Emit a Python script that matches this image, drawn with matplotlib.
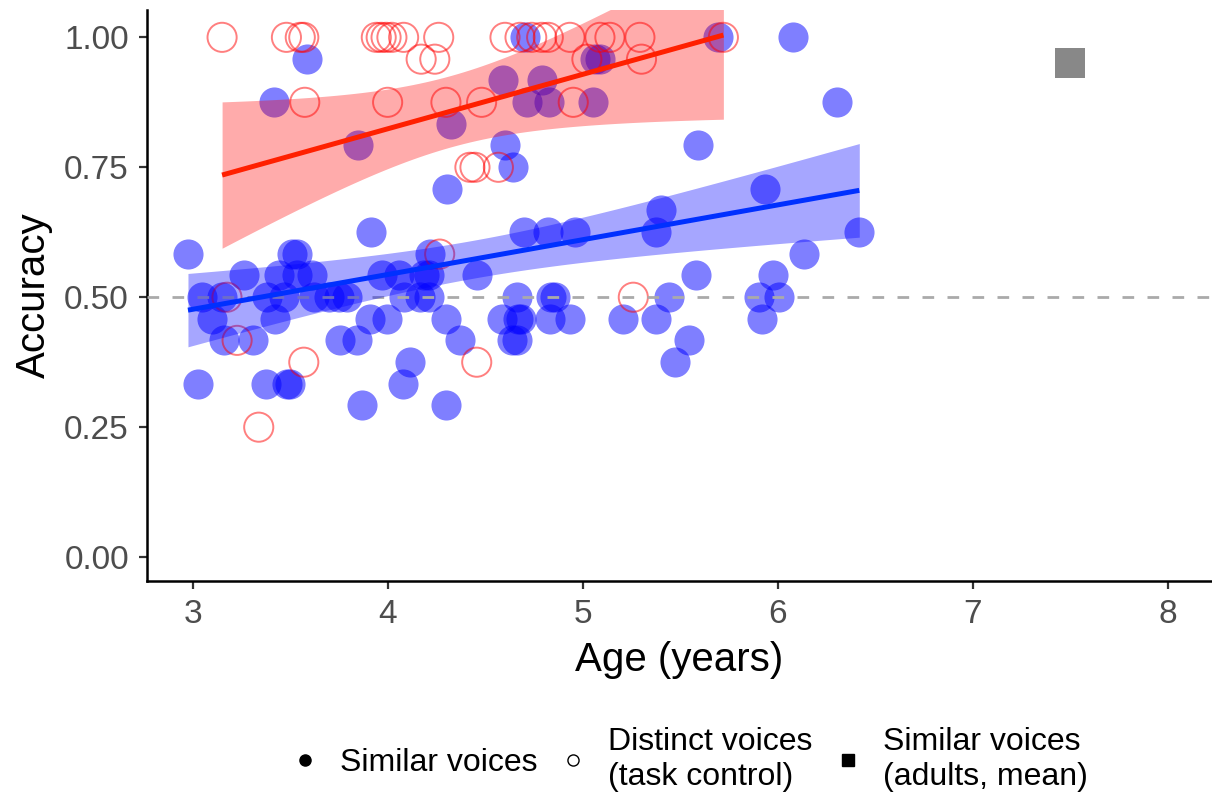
import numpy as np
import matplotlib.pyplot as plt
from matplotlib.lines import Line2D

plt.rcParams['font.family'] = ['Liberation Sans', 'DejaVu Sans']

# Similar voices (children): age in years, accuracy
sim_age = [4.703, 5.694, 6.078,
           3.585, 5.062, 5.087,
           4.59, 4.788,
           3.414, 4.715, 4.827, 5.05, 6.304,
           4.325,
           3.846, 4.6, 5.591,
           4.643,
           4.304, 5.935,
           5.398,
           3.913, 4.697, 4.822, 4.959, 5.374, 6.417,
           2.974, 3.508, 3.533, 4.214, 6.133,
           3.26, 3.44, 3.533, 3.61, 3.969, 4.055, 4.183, 4.209, 4.458, 5.579, 5.976,
           3.046, 3.149, 3.379, 3.465, 3.619, 3.696, 3.747, 3.79, 4.08, 4.166, 4.209,
           4.663, 4.835, 4.856, 5.443, 5.904, 6.007,
           3.097, 3.422, 3.906, 3.995, 4.299, 4.587, 4.668, 4.68, 4.829, 4.933, 5.207,
           5.374, 5.919,
           3.157, 3.308, 3.752, 3.841, 4.368, 4.634, 4.66, 5.544,
           4.114, 5.472,
           3.026, 3.376, 3.482, 3.499, 4.077,
           3.867, 4.297]
sim_acc = [1.0] * 3 + [0.958] * 3 + [0.917] * 2 + [0.875] * 5 + [0.833] * 1 \
    + [0.792] * 3 + [0.75] * 1 + [0.708] * 2 + [0.667] * 1 + [0.625] * 6 \
    + [0.583] * 5 + [0.542] * 11 + [0.5] * 17 + [0.458] * 13 + [0.417] * 8 \
    + [0.375] * 2 + [0.333] * 5 + [0.292] * 2

# Distinct voices (task control)
dis_age = [3.149, 3.479, 3.55, 3.568, 3.94, 3.965, 3.99, 4.02, 4.08, 4.26,
           4.6, 4.677, 4.737, 4.788, 4.822, 4.933, 5.087, 5.138, 5.292, 5.72,
           4.17, 4.24, 5.02, 5.30,
           3.573, 3.998, 4.297, 4.48, 4.95,
           4.42, 4.446, 4.566,
           4.265,
           3.174, 5.258,
           3.226,
           3.568, 4.455,
           3.337]
dis_acc = [1.0] * 20 + [0.958] * 4 + [0.875] * 5 + [0.75] * 3 + [0.583] * 1 \
    + [0.5] * 2 + [0.417] * 1 + [0.375] * 2 + [0.25] * 1

# adults, mean
adult_age = [7.5]
adult_acc = [0.95]


def lm_band(x, y, tcrit, n=80):
    # linear fit with 95% confidence band (like geom_smooth(method='lm'))
    x = np.asarray(x)
    y = np.asarray(y)
    b, a = np.polyfit(x, y, 1)
    resid = y - (a + b * x)
    s = np.sqrt(np.sum(resid ** 2) / (len(x) - 2))
    xs = np.linspace(x.min(), x.max(), n)
    se = s * np.sqrt(1 / len(x) + (xs - x.mean()) ** 2 / np.sum((x - x.mean()) ** 2))
    fit = a + b * xs
    return xs, fit, fit - tcrit * se, fit + tcrit * se


fig = plt.figure(figsize=(12.12, 7.93), dpi=100)
ax = fig.add_axes([0.1213, 0.2673, 0.8787, 0.7197])

ax.scatter(sim_age, sim_acc, s=470, color='#0000FF', alpha=0.5, linewidths=0, zorder=2)
ax.scatter(dis_age, dis_acc, s=440, facecolors='none', edgecolors='#FF0000',
           alpha=0.5, linewidths=1.4, zorder=2)
ax.scatter(adult_age, adult_acc, s=470, marker='s', color='#888888', linewidths=0, zorder=2)

ax.axhline(0.5, color='#AAAAAA', linestyle=(0, (4.2, 4.8)), linewidth=2.0, zorder=3)

# t critical values for df = n - 2
xs, fit, lo, hi = lm_band(sim_age, sim_acc, 1.987)
ax.fill_between(xs, lo, hi, color='#0000FF', alpha=0.35, linewidth=0, zorder=4)
ax.plot(xs, fit, color='#0030FF', linewidth=3.6, zorder=5, solid_capstyle='butt')

xs, fit, lo, hi = lm_band(dis_age, dis_acc, 2.026)
ax.fill_between(xs, lo, hi, color='#FF0000', alpha=0.33, linewidth=0, zorder=4)
ax.plot(xs, fit, color='#FF2000', linewidth=3.6, zorder=5, solid_capstyle='butt')

ax.set_xlim(2.764, 8.226)
ax.set_ylim(-0.046, 1.052)
ax.set_xticks([3, 4, 5, 6, 7, 8])
ax.set_yticks([0, 0.25, 0.5, 0.75, 1.0])
ax.set_yticklabels(['0.00', '0.25', '0.50', '0.75', '1.00'])

for side in ['top', 'right']:
    ax.spines[side].set_visible(False)
for side in ['left', 'bottom']:
    ax.spines[side].set_linewidth(1.8)
ax.tick_params(axis='both', length=6, width=1.6, color='#333333',
               labelsize=24, labelcolor='#4D4D4D', pad=7)

ax.set_xlabel('Age (years)', fontsize=29, labelpad=8)
ax.set_ylabel('Accuracy', fontsize=29, labelpad=8)

handles = [
    Line2D([], [], linestyle='none', marker='o', markersize=8, color='black'),
    Line2D([], [], linestyle='none', marker='o', markersize=8,
           markerfacecolor='none', markeredgecolor='black', markeredgewidth=1.0),
    Line2D([], [], linestyle='none', marker='s', markersize=8, color='black'),
]
labels = ['Similar voices', 'Distinct voices\n(task control)', 'Similar voices\n(adults, mean)']
fig.legend(handles, labels, loc='center', bbox_to_anchor=(0.568, 0.042), ncol=3,
           frameon=False, fontsize=23, handlelength=1.0, handletextpad=0.6,
           columnspacing=0.6, labelspacing=0.15)

plt.savefig('out.png', dpi=100)
